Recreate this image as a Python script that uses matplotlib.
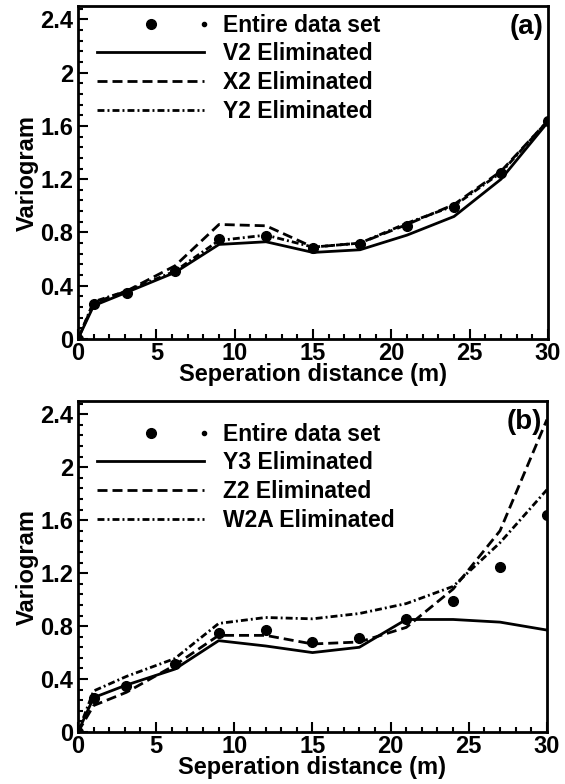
import matplotlib
matplotlib.use('Agg')
import matplotlib.pyplot as plt
from matplotlib.lines import Line2D
from matplotlib.ticker import MultipleLocator

plt.rcParams['font.family'] = ['Liberation Sans', 'DejaVu Sans']

# separation distances (m)
dist = [0, 1, 3.1, 6.2, 9, 12, 15, 18, 21, 24, 27, 30]

# variogram values, full data set (same in both panels)
entire = [0, 0.26, 0.345, 0.51, 0.75, 0.77, 0.68, 0.71, 0.85, 0.99, 1.25, 1.64]

# panel (a)
v2_elim = [0, 0.25, 0.35, 0.50, 0.71, 0.73, 0.65, 0.67, 0.78, 0.92, 1.20, 1.63]
x2_elim = [0, 0.27, 0.36, 0.55, 0.86, 0.85, 0.69, 0.72, 0.86, 1.01, 1.26, 1.64]
y2_elim = [0, 0.28, 0.36, 0.51, 0.74, 0.78, 0.69, 0.72, 0.87, 1.00, 1.25, 1.64]

# panel (b)
y3_elim = [0, 0.26, 0.355, 0.475, 0.69, 0.65, 0.60, 0.64, 0.85, 0.85, 0.83, 0.77]
z2_elim = [0, 0.20, 0.30, 0.505, 0.73, 0.73, 0.665, 0.68, 0.79, 1.08, 1.52, 2.36]
w2a_elim = [0, 0.31, 0.42, 0.555, 0.82, 0.865, 0.855, 0.895, 0.97, 1.10, 1.43, 1.83]

labels_a = ['V2 Eliminated', 'X2 Eliminated', 'Y2 Eliminated']
labels_b = ['Y3 Eliminated', 'Z2 Eliminated', 'W2A Eliminated']

DASHED = (0, (3.6, 1.8))
DASHDOT = (0, (2.5, 1.1, 0.7, 1.1))


class DotsHandler:
    # big dot in the middle, small dot at the end (Tecplot style symbol legend)
    def legend_artist(self, legend, orig_handle, fontsize, handlebox):
        x0, y0 = handlebox.xdescent, handlebox.ydescent
        w, h = handlebox.width, handlebox.height
        big = Line2D([x0 + 0.5 * w], [y0 + h / 2], marker='o', ms=7, color='k', ls='')
        small = Line2D([x0 + w], [y0 + h / 2], marker='o', ms=3, color='k', ls='')
        handlebox.add_artist(big)
        handlebox.add_artist(small)
        return big


def draw_panel(ax, series, labels, tag, leg_y):
    dots, = ax.plot(dist, entire, 'o', color='k', ms=7, zorder=5)
    styles = ['-', DASHED, DASHDOT]
    lines = []
    for vals, ls in zip(series, styles):
        ln, = ax.plot(dist, vals, color='k', lw=2.0, linestyle=ls)
        lines.append(ln)

    ax.set_xlim(0, 30)
    ax.set_ylim(0, 2.5)
    ax.xaxis.set_major_locator(MultipleLocator(5))
    ax.xaxis.set_minor_locator(MultipleLocator(1))
    ax.yaxis.set_minor_locator(MultipleLocator(0.08))
    ax.set_yticks([0, 0.4, 0.8, 1.2, 1.6, 2.0, 2.4])
    ax.set_yticklabels(['0', '0.4', '0.8', '1.2', '1.6', '2', '2.4'])
    ax.tick_params(which='both', direction='in', top=False, right=False,
                   labelsize=17, width=1.5)
    ax.tick_params(axis='x', pad=2)
    ax.tick_params(axis='y', pad=3.5)
    ax.tick_params(which='major', length=7)
    ax.tick_params(which='minor', length=3.5)
    for lab in ax.get_xticklabels() + ax.get_yticklabels():
        lab.set_fontweight('bold')
    for sp in ax.spines.values():
        sp.set_linewidth(2)

    ax.set_xlabel('Seperation distance (m)', fontsize=17, fontweight='bold', labelpad=-1)
    ax.set_ylabel('Variogram', fontsize=17, fontweight='bold', labelpad=1)

    ax.legend([dots] + lines, ['Entire data set'] + labels,
              handler_map={dots: DotsHandler()},
              loc='upper left', bbox_to_anchor=(0.04, leg_y), frameon=False,
              prop={'weight': 'bold', 'size': 16.5}, handlelength=4.7,
              handletextpad=0.8, labelspacing=0.25, borderpad=0, borderaxespad=0)

    ax.text(0.99, 0.975, tag, transform=ax.transAxes, ha='right', va='top',
            fontsize=20, fontweight='bold')


fig = plt.figure(figsize=(5.65, 7.84), dpi=100)
ax_a = fig.add_axes([0.138, 0.5676, 0.832, 0.4247])
ax_b = fig.add_axes([0.138, 0.0663, 0.830, 0.4222])

draw_panel(ax_a, [v2_elim, x2_elim, y2_elim], labels_a, '(a)', 0.977)
draw_panel(ax_b, [y3_elim, z2_elim, w2a_elim], labels_b, '(b)', 0.935)

fig.savefig('out.png', dpi=100)
